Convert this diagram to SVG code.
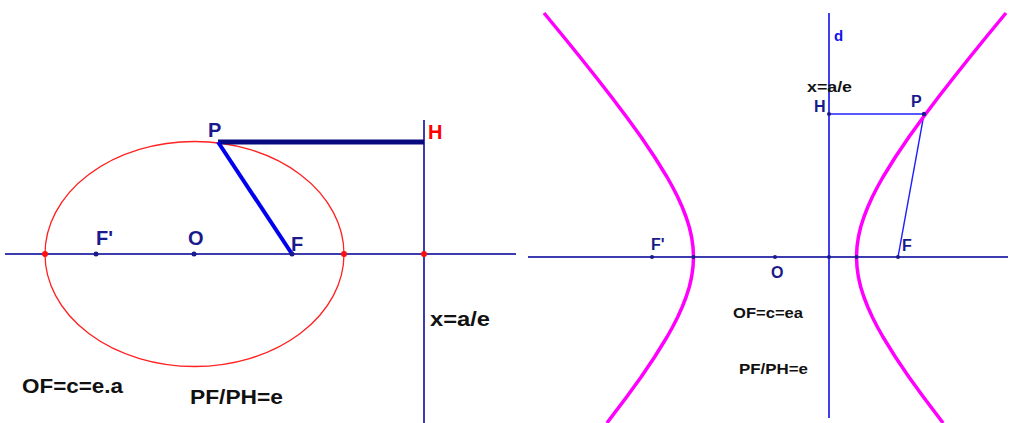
<svg xmlns="http://www.w3.org/2000/svg" width="1009" height="423" viewBox="0 0 1009 423">
<style>
text{font-family:"Liberation Sans",Arial,sans-serif;font-weight:bold}
.lbl{fill:#1a1a8c}
.blk{fill:#111}
.axis{stroke:#3c3cb0;stroke-width:2;fill:none}
.dot{fill:#1a1a8c}
.rdot{fill:#ff1010}
.hyp{stroke:#ff00ff;stroke-width:3.5;fill:none;stroke-linejoin:round}
.bl{stroke:#2020ff;stroke-width:1.4;fill:none}
</style>
<rect width="1009" height="423" fill="#fff"/>
<g id="left-connectors">
<line class="axis" x1="5" y1="254" x2="516" y2="254"/>
<line class="axis" x1="424" y1="120" x2="424" y2="423"/>
<ellipse id="ellipse" cx="194.5" cy="254" rx="149.5" ry="112.5" fill="none" stroke="#ff2020" stroke-width="1.3"/>
<line x1="218" y1="142" x2="424" y2="142" stroke="#0a0a80" stroke-width="5"/>
<line x1="218" y1="142" x2="292" y2="254" stroke="#0000ee" stroke-width="4"/>
</g>
<g id="left-nodes">
<g id="L-P"><text class="lbl" x="208" y="137" font-size="20">P</text></g>
<g id="L-H"><text x="428" y="139" font-size="20" fill="#ff0000">H</text></g>
<g id="L-Fp"><circle class="dot" cx="96" cy="254" r="2.5"/><text class="lbl" x="96" y="245" font-size="20">F'</text></g>
<g id="L-O"><circle class="dot" cx="194" cy="254" r="2.5"/><text class="lbl" x="188" y="245" font-size="20">O</text></g>
<g id="L-F"><circle class="dot" cx="292" cy="254" r="2.5"/><text class="lbl" x="291" y="251" font-size="20">F</text></g>
<circle class="rdot" cx="45" cy="254" r="3"/>
<circle class="rdot" cx="344" cy="254" r="3"/>
<circle class="rdot" cx="424" cy="254" r="3"/>
<text class="blk" x="430" y="326" font-size="20" textLength="60" lengthAdjust="spacingAndGlyphs">x=a/e</text>
<text class="blk" x="22" y="393" font-size="20" textLength="101" lengthAdjust="spacingAndGlyphs">OF=c=e.a</text>
<text class="blk" x="190" y="404" font-size="20" textLength="93" lengthAdjust="spacingAndGlyphs">PF/PH=e</text>
</g>
<g id="right-connectors">
<line class="axis" x1="528" y1="257" x2="1008" y2="257"/>
<line x1="829" y1="13" x2="829" y2="418" stroke="#1010ee" stroke-width="1.6"/>
<line class="bl" x1="829" y1="114" x2="924" y2="114"/>
<line class="bl" x1="924" y1="114" x2="898" y2="257"/>
<polyline class="hyp" points="1006,13 986.2,37 970,57 954.1,77 938.5,97 923.4,117 908.9,137 895.4,157 883,177 877.4,187 872.3,197 867.8,207 863.9,217 860.7,227 858.4,237 857,247 856.5,257 857,267 858.4,277 860.7,287 863.9,297 867.8,307 872.3,317 877.4,327 883,337 895.4,357 908.9,377 923.4,397 943.1,423"/>
<polyline class="hyp" points="544,13 563.8,37 580,57 595.9,77 611.5,97 626.6,117 641.1,137 654.6,157 667,177 672.6,187 677.7,197 682.2,207 686.1,217 689.3,227 691.6,237 693,247 693.5,257 693,267 691.6,277 689.3,287 686.1,297 682.2,307 677.7,317 672.6,327 667,337 654.6,357 641.1,377 626.6,397 606.9,423"/>
</g>
<g id="right-nodes">
<g id="R-d"><text x="834" y="41" font-size="15" fill="#1010ee">d</text></g>
<text class="blk" x="807" y="92" font-size="15" textLength="45" lengthAdjust="spacingAndGlyphs">x=a/e</text>
<g id="R-H"><circle class="dot" cx="829" cy="114" r="2"/><text class="lbl" x="814" y="112" font-size="16">H</text></g>
<g id="R-P"><circle class="dot" cx="924" cy="114" r="2.2"/><text class="lbl" x="911" y="107" font-size="16">P</text></g>
<g id="R-F"><circle class="dot" cx="898" cy="257" r="2"/><text class="lbl" x="902" y="251" font-size="16">F</text></g>
<g id="R-Fp"><circle class="dot" cx="652" cy="257" r="2"/><text class="lbl" x="651" y="250" font-size="16">F'</text></g>
<g id="R-O"><circle class="dot" cx="775" cy="257" r="2"/><text class="lbl" x="771" y="278" font-size="16">O</text></g>
<circle class="dot" cx="829" cy="257" r="2"/>
<circle class="dot" cx="693.5" cy="257" r="2"/>
<circle class="dot" cx="856.5" cy="257" r="2"/>
<text class="blk" x="733" y="318" font-size="15" textLength="70" lengthAdjust="spacingAndGlyphs">OF=c=ea</text>
<text class="blk" x="739" y="374" font-size="15" textLength="69" lengthAdjust="spacingAndGlyphs">PF/PH=e</text>
</g>
</svg>
